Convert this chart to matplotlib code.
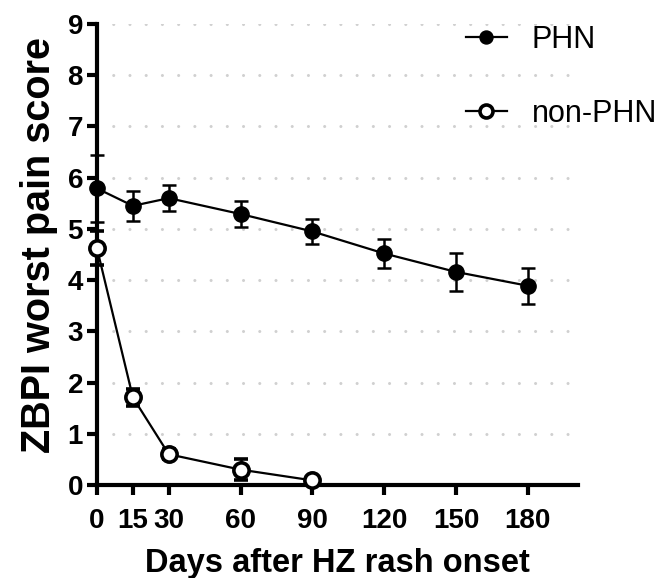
import numpy as np
import matplotlib
matplotlib.use("Agg")
from matplotlib import pyplot as plt

plt.rcParams['font.family'] = ['Liberation Sans', 'DejaVu Sans']

# PHN group
phn_days = [0, 15, 30, 60, 90, 120, 150, 180]
phn_mean = [5.79, 5.45, 5.60, 5.29, 4.95, 4.52, 4.16, 3.89]
phn_err = [0.65, 0.29, 0.26, 0.25, 0.25, 0.29, 0.37, 0.35]

# non-PHN group
non_days = [0, 15, 30, 60, 90]
non_mean = [4.62, 1.71, 0.60, 0.30, 0.09]
non_err = [0.33, 0.17, 0.10, 0.20, 0.04]

xticks = [0, 15, 30, 60, 90, 120, 150, 180]
yticks = [0, 1, 2, 3, 4, 5, 6, 7, 8, 9]

fig = plt.figure(figsize=(6.58, 5.78), dpi=100)
ax = fig.add_axes([0.1474, 0.1609, 0.7310, 0.7976])

for y in yticks[1:]:
    ax.axhline(y, color="#d0d0d0", lw=2.2, ls=(0, (0.01, 5.3)),
               dash_capstyle="round", zorder=0)

ax.errorbar(phn_days, phn_mean, yerr=phn_err, fmt="-o", color="black",
            ms=11, lw=1.6, elinewidth=1.8, capsize=5, capthick=1.8,
            label="PHN", zorder=3, clip_on=False)
ax.errorbar(non_days, non_mean, yerr=non_err, fmt="-o", color="black",
            mfc="white", mew=2.6, ms=11, lw=1.6, elinewidth=1.8, capsize=5,
            capthick=1.8, label="non-PHN", zorder=4, clip_on=False)

ax.set_xlim(0, 201)
ax.set_ylim(0, 9)
ax.set_xticks(xticks)
ax.set_yticks(yticks)
ax.spines['top'].set_visible(False)
ax.spines['right'].set_visible(False)
ax.spines['left'].set_linewidth(3)
ax.spines['bottom'].set_linewidth(3)
ax.tick_params(direction="out", length=7, width=3, labelsize=20)
ax.tick_params(axis="x", pad=9.5)
ax.tick_params(axis="y", pad=3)
for lab in ax.get_xticklabels() + ax.get_yticklabels():
    lab.set_fontweight("bold")

ax.set_xlabel("Days after HZ rash onset", fontsize=23.5, fontweight="bold", labelpad=10)
ax.set_ylabel("ZBPI worst pain score", fontsize=28.5, fontweight="bold", labelpad=7)
ax.yaxis.label.set_y(0.52)

handles, labels = ax.get_legend_handles_labels()
handles = [h[0] for h in handles]
fig.legend(handles, labels, loc="upper left", bbox_to_anchor=(0.708, 0.957),
           frameon=False, fontsize=22, handlelength=1.35, handletextpad=0.8,
           labelspacing=1.45, markerscale=0.85, borderpad=0, borderaxespad=0)

fig.savefig("out.png", dpi=100)
